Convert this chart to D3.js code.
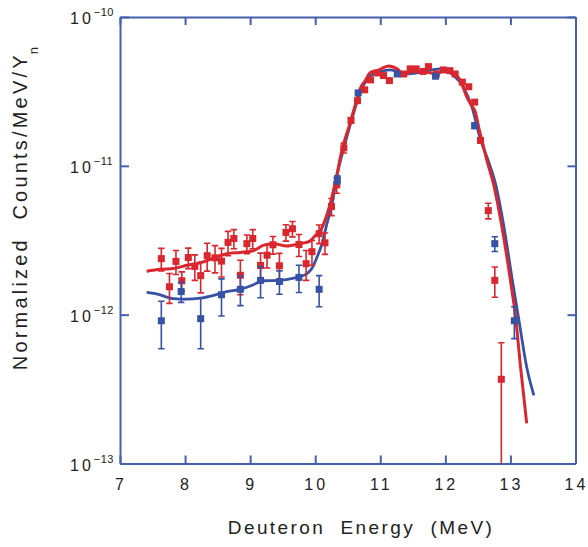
<!DOCTYPE html>
<html>
<head>
<meta charset="utf-8">
<script src="https://cdn.jsdelivr.net/npm/d3@7"></script>
<style>
  html, body { margin: 0; padding: 0; background: #fff; }
  svg { display: block; }
  text { font-family: "Liberation Sans", Arial, Helvetica, sans-serif; fill: #222; }
</style>
</head>
<body>
<svg id="chart" width="588" height="547"></svg>
<script>
// ---- data (energies in MeV, values in counts/MeV/Yn) ----
const xTicks = [7, 8, 9, 10, 11, 12, 13, 14];
const yTicks = [1e-13, 1e-12, 1e-11, 1e-10];
const yTickExp = ["\u221213", "\u221212", "\u221211", "\u221210"];

const redX = [7.635, 7.76, 7.86, 7.95, 8.05, 8.15, 8.24, 8.34, 8.46, 8.56, 8.66, 8.75, 8.85, 8.95, 9.04, 9.16, 9.26, 9.35, 9.45, 9.55, 9.65, 9.75, 9.86, 9.95, 10.06, 10.15, 10.25, 10.33,
  10.44, 10.55, 10.65, 10.76, 10.85, 10.95, 11.05, 11.14, 11.36, 11.46, 11.55, 11.66, 11.74, 11.86, 11.97, 12.07, 12.15, 12.26, 12.36, 12.45, 12.54, 12.66, 12.76, 12.86];
const redY = [2.38e-12, 1.54e-12, 2.28e-12, 1.69e-12, 2.42e-12, 2.11e-12, 1.83e-12, 2.49e-12, 2.41e-12, 2.29e-12, 3.06e-12, 3.25e-12, 1.84e-12, 3.0e-12, 3.25e-12, 2.14e-12, 2.51e-12, 2.95e-12, 2.13e-12, 3.57e-12, 3.78e-12, 2.96e-12, 2.2e-12, 2.65e-12, 3.5e-12, 3.04e-12, 5.33e-12, 7.45e-12,
  1.32e-11, 2.02e-11, 2.74e-11, 3.24e-11, 3.78e-11, 4.21e-11, 4.04e-11, 3.74e-11, 4.14e-11, 4.48e-11, 4.48e-11, 4.31e-11, 4.64e-11, 4.14e-11, 4.41e-11, 4.36e-11, 4.14e-11, 3.65e-11, 3.4e-11, 2.68e-11, 1.48e-11, 5.0e-12, 1.7e-12, 3.68e-13];
const redErr = [0.41e-12, 0.35e-12, 0.42e-12, 0.25e-12, 0.38e-12, 0.41e-12, 0.43e-12, 0.53e-12, 0.5e-12, 0.5e-12, 0.57e-12, 0.48e-12, 0.48e-12, 0.43e-12, 0.48e-12, 0.45e-12, 0.45e-12, 0.4e-12, 0.45e-12, 0.45e-12, 0.45e-12, 0.5e-12, 0.5e-12, 0.5e-12, 0.5e-12, 0.5e-12, 0.7e-12, 0.9e-12,
  0.1e-11, 0.08e-11, 0.08e-11, 0.08e-11, 0.1e-11, 0.1e-11, 0.1e-11, 0.1e-11, 0.1e-11, 0.1e-11, 0.1e-11, 0.1e-11, 0.1e-11, 0.1e-11, 0.1e-11, 0.1e-11, 0.1e-11, 0.1e-11, 0.1e-11, 0.08e-11, 0.06e-11, 0.6e-12, 0.39e-12, 2.8e-13];

const blueX = [7.635, 7.94, 8.24, 8.56, 8.85, 9.16, 9.45, 9.75, 10.06, 10.34, 10.66, 11.26, 11.85, 12.45, 12.76, 13.06];
const blueY = [0.91e-12, 1.43e-12, 0.94e-12, 1.36e-12, 1.48e-12, 1.70e-12, 1.67e-12, 1.78e-12, 1.48e-12, 8.06e-12, 3.09e-11, 4.14e-11, 4.0e-11, 1.86e-11, 3.0e-12, 0.91e-12];
const blueErr = [0.32e-12, 0.22e-12, 0.35e-12, 0.38e-12, 0.33e-12, 0.4e-12, 0.3e-12, 0.37e-12, 0.35e-12, 0.5e-12, 0.1e-11, 0.1e-11, 0.1e-11, 0.08e-11, 0.34e-12, 0.22e-12];

const redFitX = [7.41, 7.62, 7.82, 8.03, 8.23, 8.44, 8.64, 8.85, 9.05, 9.20, 9.36, 9.56, 9.77, 9.92, 10.00, 10.08, 10.15, 10.23, 10.31, 10.41, 10.54, 10.62, 10.69, 10.77, 10.85, 10.95, 11.13, 11.26, 11.36, 11.51, 11.72, 11.87, 11.97, 12.10, 12.23, 12.33, 12.40, 12.46, 12.52, 12.58, 12.64, 12.74, 12.87, 13.00, 13.08, 13.15, 13.25];
const redFitY = [1.96e-12, 2.02e-12, 2.04e-12, 2.15e-12, 2.23e-12, 2.40e-12, 2.57e-12, 2.62e-12, 2.69e-12, 2.92e-12, 3.00e-12, 2.89e-12, 3.00e-12, 3.12e-12, 3.40e-12, 3.67e-12, 4.30e-12, 5.56e-12, 7.77e-12, 1.27e-11, 1.96e-11, 2.61e-11, 3.29e-11, 3.74e-11, 4.25e-11, 4.36e-11, 4.69e-11, 4.48e-11, 4.14e-11, 4.30e-11, 4.25e-11, 4.14e-11, 4.36e-11, 4.25e-11, 3.74e-11, 2.9e-11, 2.55e-11, 2.3e-11, 1.75e-11, 1.38e-11, 1.08e-11, 7.57e-12, 3.88e-12, 1.70e-12, 9.6e-13, 4.69e-13, 1.86e-13];

const blueFitX = [7.41, 7.56, 7.82, 8.03, 8.23, 8.44, 8.64, 8.85, 9.05, 9.20, 9.46, 9.67, 9.87, 9.95, 10.03, 10.10, 10.18, 10.26, 10.33, 10.43, 10.54, 10.62, 10.70, 10.78, 10.85, 11.00, 11.15, 11.40, 11.62, 11.92, 12.13, 12.28, 12.41, 12.54, 12.67, 12.77, 12.90, 13.03, 13.13, 13.25, 13.36];
const blueFitY = [1.41e-12, 1.38e-12, 1.28e-12, 1.27e-12, 1.29e-12, 1.35e-12, 1.43e-12, 1.48e-12, 1.59e-12, 1.69e-12, 1.70e-12, 1.76e-12, 1.88e-12, 2.05e-12, 2.45e-12, 2.95e-12, 4.08e-12, 5.56e-12, 8.39e-12, 1.27e-11, 1.9e-11, 2.5e-11, 3.2e-11, 3.7e-11, 4.03e-11, 4.3e-11, 4.41e-11, 4.14e-11, 4.25e-11, 4.48e-11, 4.03e-11, 3.37e-11, 2.47e-11, 1.5e-11, 1.05e-11, 7.6e-12, 3.9e-12, 1.7e-12, 9.2e-13, 4.45e-13, 2.87e-13];

// ---- styling ----
const RED = "#d8272e";
const BLUE = "#3752a4";
const AXIS = "#4560ad";

const svg = d3.select("#chart");
const L = 120, R = 575.5, T = 17, B = 463.5;

const x = d3.scaleLinear().domain([7, 14]).range([L, R]);
const y = d3.scaleLog().domain([1e-13, 1e-10]).range([B, T]);

svg.append("defs").append("clipPath").attr("id", "plotclip")
  .append("rect").attr("x", L).attr("y", T).attr("width", R - L).attr("height", B - T);

// axes (ticks pointing inward)
function styleAxis(g) {
  g.selectAll("path.domain").attr("stroke", AXIS).attr("stroke-width", 2);
  g.selectAll(".tick line").attr("stroke", AXIS).attr("stroke-width", 2);
  g.selectAll(".tick text").remove();
}
svg.append("g").attr("transform", `translate(0,${B})`)
  .call(d3.axisBottom(x).tickValues(xTicks).tickSize(-8).tickSizeOuter(0)).call(styleAxis);
svg.append("g").attr("transform", `translate(0,${T})`)
  .call(d3.axisTop(x).tickValues(xTicks).tickSize(-8).tickSizeOuter(0)).call(styleAxis);
svg.append("g").attr("transform", `translate(${L},0)`)
  .call(d3.axisLeft(y).tickValues(yTicks).tickSize(-9).tickSizeOuter(0)).call(styleAxis);
svg.append("g").attr("transform", `translate(${R},0)`)
  .call(d3.axisRight(y).tickValues(yTicks).tickSize(-8).tickSizeOuter(0)).call(styleAxis);

// x tick labels
svg.append("g").selectAll("text").data(xTicks).join("text")
  .attr("x", d => x(d) + 1).attr("y", B + 26)
  .attr("text-anchor", "middle").attr("font-size", 16).attr("letter-spacing", 3)
  .text(d => d);

// y tick labels: 10^-n
const yl = svg.append("g").selectAll("text").data(yTicks).join("text")
  .attr("x", 70).attr("y", d => y(d) + 7).attr("font-size", 16).attr("letter-spacing", 3);
yl.append("tspan").text("10");
yl.append("tspan").attr("font-size", 11).attr("dy", -8).attr("dx", 0).attr("letter-spacing", 0.5).text((d, i) => yTickExp[i]);

// axis titles
svg.append("text").attr("x", 361).attr("y", 534).attr("text-anchor", "middle")
  .attr("font-size", 19).attr("letter-spacing", 2.4).attr("xml:space", "preserve")
  .text("Deuteron  Energy  (MeV)");
const yt = svg.append("text").attr("transform", "translate(27,207) rotate(-90)")
  .attr("text-anchor", "middle").attr("font-size", 20).attr("letter-spacing", 3.2).attr("xml:space", "preserve");
yt.append("tspan").text("Normalized  Counts/MeV/Y");
yt.append("tspan").attr("font-size", 13).attr("dy", 11).attr("dx", -2).text("n");

const plot = svg.append("g").attr("clip-path", "url(#plotclip)");

// fitted curves
const line = d3.line().x(d => x(d[0])).y(d => y(d[1])).curve(d3.curveMonotoneX);
plot.append("path").datum(d3.zip(blueFitX, blueFitY)).attr("d", line)
  .attr("fill", "none").attr("stroke", BLUE).attr("stroke-width", 2.8);
plot.append("path").datum(d3.zip(redFitX, redFitY)).attr("d", line)
  .attr("fill", "none").attr("stroke", RED).attr("stroke-width", 3);

// data points with error bars
function drawSeries(xs, ys, es, color) {
  const g = plot.append("g");
  const data = d3.zip(xs, ys, es);
  const cap = 3.2, sq = 7;
  data.forEach(([cx, cy, e]) => {
    const px = x(cx);
    const lo = cy - e;
    const yTop = y(cy + e);
    const yBot = lo > 1e-13 ? y(lo) : B + 2;
    g.append("line").attr("x1", px).attr("x2", px).attr("y1", yTop).attr("y2", yBot)
      .attr("stroke", color).attr("stroke-width", 1.6);
    g.append("line").attr("x1", px - cap).attr("x2", px + cap).attr("y1", yTop).attr("y2", yTop)
      .attr("stroke", color).attr("stroke-width", 1.6);
    if (lo > 1e-13) {
      g.append("line").attr("x1", px - cap).attr("x2", px + cap).attr("y1", yBot).attr("y2", yBot)
        .attr("stroke", color).attr("stroke-width", 1.6);
    }
    g.append("rect").attr("x", px - sq / 2).attr("y", y(cy) - sq / 2)
      .attr("width", sq).attr("height", sq).attr("fill", color);
  });
}
drawSeries(redX, redY, redErr, RED);
drawSeries(blueX, blueY, blueErr, BLUE);
</script>
</body>
</html>
